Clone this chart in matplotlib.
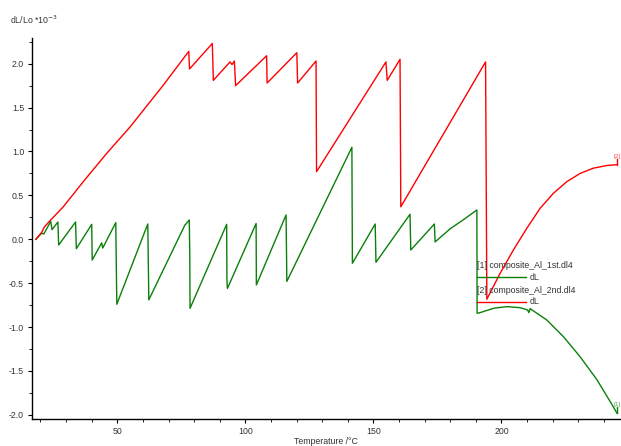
import matplotlib
matplotlib.use("Agg")
import matplotlib.pyplot as plt
from matplotlib.ticker import MultipleLocator

plt.rcParams['font.family'] = ['Liberation Sans', 'DejaVu Sans']

# ---- data ----
green_T = [18.2, 20.5, 21.3, 24.0, 24.5, 26.8, 27.1, 33.7, 34.0, 40.0, 40.2, 43.9, 44.3,
           49.4, 49.8, 61.9, 62.3, 76.4, 77.0, 78.1, 78.3, 78.4, 92.7, 92.8, 93.0,
           104.2, 104.3, 115.9, 116.2, 141.6, 141.8, 150.7, 151.0, 164.3, 164.6,
           173.8, 174.1, 180.0, 185.5, 190.4, 190.5, 191.7, 196.9, 202.1, 207.3, 210.2,
           210.7, 211.2, 217.7, 224.2, 230.7, 237.3, 242.5, 245.1]
green_V = [0.0, 0.07, 0.06, 0.205, 0.11, 0.197, -0.065, 0.197, -0.107, 0.17, -0.236, -0.04, -0.10,
           0.19, -0.74, 0.174, -0.69, 0.163, 0.18, 0.22, -0.18, -0.786, 0.17, -0.47, -0.56,
           0.18, -0.52, 0.277, -0.48, 1.048, -0.273, 0.174, -0.262, 0.285, -0.122,
           0.174, -0.03, 0.12, 0.23, 0.334, -0.843, -0.835, -0.786, -0.767, -0.779, -0.805,
           -0.835, -0.79, -0.919, -1.109, -1.337, -1.60, -1.85, -1.98]

red_T = [18.2, 20.5, 21.5, 24.0, 28.9, 36.7, 45.9, 55.0, 68.0, 77.9, 78.2, 87.1, 87.5,
         94.0, 94.8, 95.7, 96.2, 108.3, 108.5, 120.1, 120.4, 127.6, 127.8, 154.9, 155.4,
         160.4, 160.7, 193.8, 194.3, 199.5, 204.7, 209.9, 215.1, 220.3, 225.5, 230.7,
         235.9, 241.1, 245.0]
red_V = [0.0, 0.08, 0.14, 0.22, 0.37, 0.656, 0.98, 1.28, 1.757, 2.14, 1.94, 2.23, 1.81,
         2.02, 1.99, 2.03, 1.75, 2.09, 1.78, 2.125, 1.78, 2.03, 0.77, 2.02, 1.81,
         2.05, 0.37, 2.02, -0.683, -0.387, -0.12, 0.125, 0.353, 0.524, 0.656, 0.75,
         0.81, 0.84, 0.85]

legend_titles = ["[1] composite_Al_1st.dl4", "[2] composite_Al_2nd.dl4"]
legend_item = "dL"
end_tags = ["[1]", "[2]"]

GREEN = '#0a800a'
RED = '#ff0000'
TXT = '#333333'
FS = 6.3

fig = plt.figure(figsize=(6.21, 4.46), dpi=100)
ax = fig.add_axes([0.051, 0.0599, 0.947, 0.855])

ax.plot(green_T, green_V, color=GREEN, lw=1.0)
ax.plot(red_T, red_V, color=RED, lw=1.0)

# end markers with tags
for T, V, col, tag in [(green_T, green_V, GREEN, end_tags[0]), (red_T, red_V, RED, end_tags[1])]:
    ax.plot([T[-1], T[-1]], [V[-1], V[-1] + 0.07], color=col, lw=1.0)
    ax.text(T[-1], V[-1] + 0.07, tag, color=col, fontsize=4.5, ha='center', va='bottom', alpha=0.7)

ax.set_xlim(16.56, 246.2)
ax.set_ylim(-2.05, 2.293)

ax.xaxis.set_major_locator(MultipleLocator(50))
ax.xaxis.set_minor_locator(MultipleLocator(10))
ax.yaxis.set_major_locator(MultipleLocator(0.5))
ax.yaxis.set_minor_locator(MultipleLocator(0.25))
ax.yaxis.set_major_formatter(plt.FuncFormatter(lambda v, p: f"{v:.1f}"))

for s in ['top', 'right']:
    ax.spines[s].set_visible(False)
for s in ['left', 'bottom']:
    ax.spines[s].set_linewidth(1.0)
    ax.spines[s].set_color('black')

ax.tick_params(which='major', direction='out', length=3, width=0.8, labelsize=FS,
               labelcolor=TXT, pad=2.5)
ax.tick_params(which='minor', direction='out', length=2, width=0.6)

ax.set_xlabel("Temperature /°C", fontsize=FS, color=TXT, labelpad=1)
fig.text(10 / 621, 1 - 20 / 446, "dL/Lo *10$^{-3}$", fontsize=FS, color=TXT,
         ha='left', va='center')

# legend drawn inside the axes without a frame
lx0, lx1 = 0.7564, 0.8414
rows = [(0.402, 0.3724, GREEN), (0.339, 0.3076, RED)]
for (ty, ly, col), title in zip(rows, legend_titles):
    ax.text(lx0, ty, title, transform=ax.transAxes, fontsize=FS, color=TXT,
            ha='left', va='center')
    ax.plot([lx0, lx1], [ly, ly], transform=ax.transAxes, color=col, lw=1.0)
    ax.text(lx1 + 0.006, ly, legend_item, transform=ax.transAxes, fontsize=FS,
            color=TXT, ha='left', va='center')

fig.savefig("out.png", dpi=100)
